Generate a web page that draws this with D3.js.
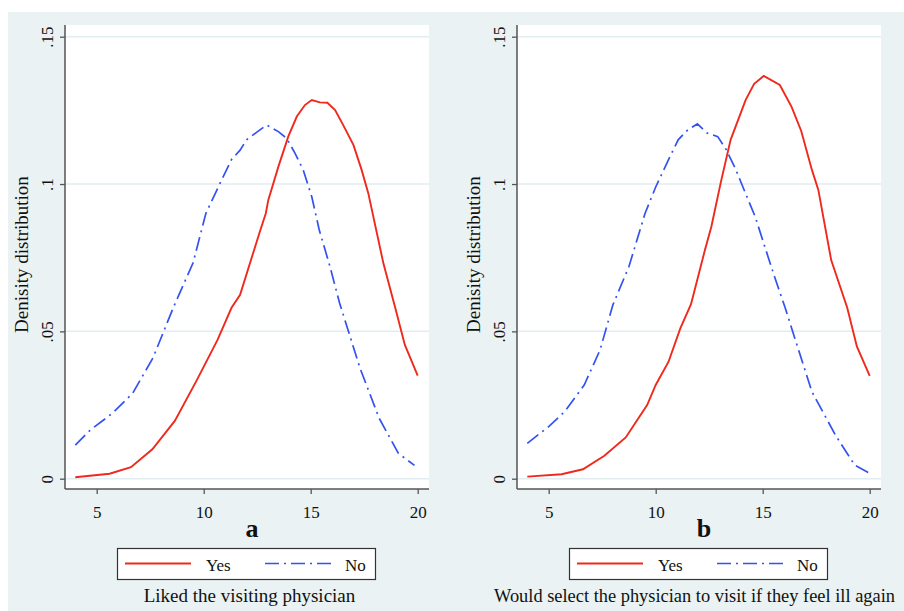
<!DOCTYPE html>
<html>
<head>
<meta charset="utf-8">
<script src="https://cdn.jsdelivr.net/npm/d3@7"></script>
<style>
  body { margin: 0; background: #fff; }
  text { font-family: "Liberation Serif", "Times New Roman", serif; fill: #111; }
</style>
</head>
<body>
<div id="chart"></div>
<script>
// Panel a: Liked the visiting physician
var aYesX = [4, 5.6, 6.6, 7.6, 8.65, 9.66, 10.64, 11.3, 11.7, 12.6, 12.9, 13.02, 13.49, 13.95, 14.35, 14.73, 15.05, 15.43, 15.78, 16.14, 16.52, 17.0, 17.38, 17.69, 18.4, 18.95, 19.4, 20];
var aYesY = [0.0005, 0.0017, 0.0039, 0.010, 0.0196, 0.0332, 0.047, 0.058, 0.0624, 0.0833, 0.090, 0.0946, 0.1059, 0.1161, 0.1229, 0.1268, 0.1285, 0.1277, 0.1276, 0.1251, 0.120, 0.1132, 0.1048, 0.0969, 0.0730, 0.058, 0.0454, 0.035];
var aNoX = [4, 4.7, 5.75, 6.68, 7.63, 8.6, 9.5, 10.1, 10.8, 11.3, 11.7, 12.0, 12.63, 12.94, 13.49, 13.88, 14.27, 14.65, 15.05, 15.4, 15.9, 16.35, 17.3, 18.2, 19.1, 19.85];
var aNoY = [0.0114, 0.0165, 0.0223, 0.029, 0.041, 0.0584, 0.0732, 0.090, 0.1008, 0.1083, 0.1115, 0.115, 0.1184, 0.120, 0.1178, 0.1155, 0.1104, 0.1048, 0.0957, 0.0844, 0.072, 0.0596, 0.0376, 0.0205, 0.0086, 0.0045];

// Panel b: Would select the physician again
var bYesX = [4, 5.6, 6.6, 7.6, 8.6, 9.6, 10, 10.6, 11.15, 11.65, 12.3, 12.6, 13.05, 13.5, 14.2, 14.6, 15.05, 15.8, 16.35, 16.8, 17.3, 17.6, 18.2, 18.95, 19.4, 20];
var bYesY = [0.0007, 0.0015, 0.0032, 0.0078, 0.014, 0.025, 0.0318, 0.0397, 0.051, 0.0592, 0.0776, 0.0855, 0.1008, 0.115, 0.1285, 0.134, 0.1367, 0.1336, 0.1262, 0.118, 0.1048, 0.098, 0.0742, 0.058, 0.0449, 0.0349];
var bNoX = [4, 5, 5.75, 6.66, 7.4, 8.0, 8.75, 9.5, 10, 10.6, 11.05, 11.5, 11.95, 12.4, 12.9, 13.3, 13.75, 14.2, 14.65, 15.1, 15.55, 16.05, 16.5, 17.3, 18.4, 19.3, 20];
var bNoY = [0.012, 0.0177, 0.0228, 0.0318, 0.0437, 0.059, 0.072, 0.090, 0.099, 0.1083, 0.115, 0.1184, 0.1204, 0.1173, 0.1161, 0.1116, 0.1048, 0.0968, 0.0889, 0.0787, 0.0686, 0.058, 0.0477, 0.0295, 0.0148, 0.0046, 0.0018];

var xTicks = [5, 10, 15, 20];
var yTicks = [0, 0.05, 0.1, 0.15];
var yTickLabels = ["0", ".05", ".1", ".15"];
var legendLabels = ["Yes", "No"];
var panelLetters = ["a", "b"];
var captions = ["Liked the visiting physician", "Would select the physician to visit if they feel ill again"];

var W = 904, H = 611;
var bg = "#eaf2f3";
var gridColor = "#e2edf1";
var axisColor = "#555";
var red = "#f0291c";
var blue = "#3452f0";
var dash = "14,5,2,5";

var svg = d3.select("#chart").append("svg")
    .attr("width", W)
    .attr("height", H);

svg.append("rect").attr("x", 8).attr("y", 12).attr("width", W - 8).attr("height", H - 12).attr("fill", bg);

function zip(xs, ys) {
    return xs.map((x, i) => ({ x: x, y: ys[i] }));
}

function drawPanel(ox, letter, caption, captionX, captionAnchor, captionSize, yes, no) {
    var g = svg.append("g").attr("transform", "translate(" + ox + ",0)");
    var left = 65, right = 429, top = 25, bottom = 489;

    var x = d3.scaleLinear().domain([4, 20]).range([75.3, 417.7]);
    var y = d3.scaleLinear().domain([0, 0.15]).range([478.7, 36.7]);

    // Plot region.
    g.append("rect")
        .attr("x", left).attr("y", top)
        .attr("width", right - left).attr("height", bottom - top)
        .attr("fill", "#fff");

    // Grid.
    g.selectAll(".grid").data(yTicks).enter()
        .append("line")
        .attr("x1", left).attr("x2", right)
        .attr("y1", d => y(d)).attr("y2", d => y(d))
        .attr("stroke", gridColor).attr("stroke-width", 1.5);

    // Y axis.
    var yAxis = g.append("g")
        .attr("transform", "translate(" + left + ",0)")
        .call(d3.axisLeft(y).tickValues(yTicks).tickFormat((d, i) => yTickLabels[i]).tickSize(5).tickSizeOuter(0));
    yAxis.select(".domain").remove();
    yAxis.append("line").attr("x1", 0).attr("x2", 0).attr("y1", top).attr("y2", bottom)
        .attr("stroke", axisColor).attr("stroke-width", 1.5);
    yAxis.selectAll(".tick line").attr("stroke", axisColor).attr("stroke-width", 1.3);
    yAxis.selectAll(".tick text")
        .attr("transform", "rotate(-90)")
        .attr("x", 0).attr("y", -12).attr("dy", 0)
        .attr("text-anchor", "middle")
        .style("font-family", "Liberation Serif").style("font-size", "17px").attr("fill", "#111");

    // X axis.
    var xAxis = g.append("g")
        .attr("transform", "translate(0," + bottom + ")")
        .call(d3.axisBottom(x).tickValues(xTicks).tickFormat(d3.format("d")).tickSize(5).tickSizeOuter(0));
    xAxis.select(".domain").remove();
    xAxis.append("line").attr("x1", left).attr("x2", right).attr("y1", 0).attr("y2", 0)
        .attr("stroke", axisColor).attr("stroke-width", 1.5);
    xAxis.selectAll(".tick line").attr("stroke", axisColor).attr("stroke-width", 1.3);
    xAxis.selectAll(".tick text")
        .attr("y", 14.5).attr("dy", "0.85em")
        .style("font-family", "Liberation Serif").style("font-size", "17px").attr("fill", "#111");

    // Axis titles.
    g.append("text")
        .attr("x", 252).attr("y", 537)
        .attr("text-anchor", "middle")
        .style("font-size", "26px").style("font-weight", "bold")
        .text(letter);
    g.append("text")
        .attr("transform", "translate(28,254.5) rotate(-90)")
        .attr("text-anchor", "middle")
        .style("font-size", "19px")
        .text("Denisity distribution");

    // Curves.
    var line = d3.line().x(d => x(d.x)).y(d => y(d.y));
    g.append("path").datum(no).attr("d", line)
        .attr("fill", "none").attr("stroke", blue).attr("stroke-width", 1.7)
        .attr("stroke-dasharray", dash);
    g.append("path").datum(yes).attr("d", line)
        .attr("fill", "none").attr("stroke", red).attr("stroke-width", 1.9);

    // Legend.
    var lg = g.append("g");
    lg.append("rect").attr("x", 117.5).attr("y", 548.5).attr("width", 258).attr("height", 31)
        .attr("fill", "#fff").attr("stroke", "#333").attr("stroke-width", 1.2);
    lg.append("line").attr("x1", 125).attr("x2", 191).attr("y1", 563.5).attr("y2", 563.5)
        .attr("stroke", red).attr("stroke-width", 1.9);
    lg.append("text").attr("x", 206).attr("y", 570.5).style("font-size", "17px").text(legendLabels[0]);
    lg.append("line").attr("x1", 265).attr("x2", 332).attr("y1", 563.5).attr("y2", 563.5)
        .attr("stroke", blue).attr("stroke-width", 1.7).attr("stroke-dasharray", dash);
    lg.append("text").attr("x", 345).attr("y", 570.5).style("font-size", "17px").text(legendLabels[1]);

    // Caption.
    g.append("text")
        .attr("x", captionX).attr("y", 602)
        .attr("text-anchor", captionAnchor)
        .style("font-size", captionSize)
        .text(caption);
}

drawPanel(0, panelLetters[0], captions[0], 249.5, "middle", "19px", zip(aYesX, aYesY), zip(aNoX, aNoY));
drawPanel(452, panelLetters[1], captions[1], 42, "start", "18.4px", zip(bYesX, bYesY), zip(bNoX, bNoY));
</script>
</body>
</html>
